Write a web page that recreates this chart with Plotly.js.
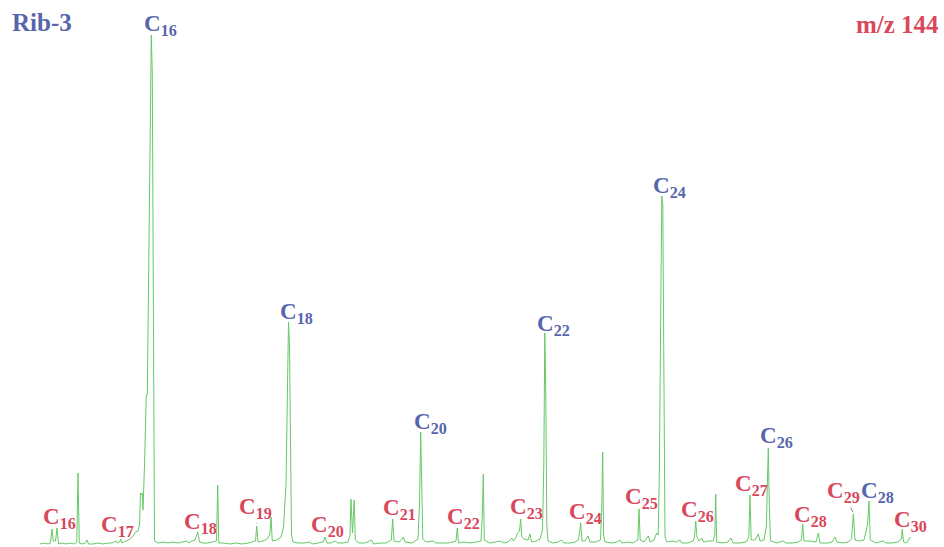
<!DOCTYPE html>
<html>
<head>
<meta charset="utf-8">
<script src="https://cdn.plot.ly/plotly-3.0.1.min.js"></script>
<style>html,body{margin:0;padding:0;background:#fff;}#chart{width:944px;height:547px;}</style>
</head>
<body>
<div id="chart"></div>
<script>
// Retention position (arbitrary scan units) and m/z 144 ion abundance (arbitrary units)
const retention = [
  40,44,48,50.5,52,53.2,55.5,57,58.5,62,66,70,74,76.8,78,79.3,82,85.5,87,88.5,
  93,98,103,108,112,114.5,116,117.5,119.5,120.7,122,126,130,133,135.5,138,139.5,140.5,141.3,142.2,
  143,144.5,146.3,147.3,148.5,150,151.3,152.3,153.2,153.8,154.5,158,163,168,173,178,183,186.7,189,192,
  195,197.7,199.5,203,208,213,216.5,217.7,218.8,224,230,236,242,248,252,255.5,256.7,258,263,267,
  269.8,271,272.3,277,281,283.5,286,287.5,288.5,289.5,290.5,291.5,293,298,304,309,313,318,323,325,
  327,331,335,338,343,348,350,351,352.5,354.2,355.3,359,365,371.7,373.5,380,386,391.3,392.7,394,
  399,401.5,403.3,405,412,418,419.5,420.7,421.8,422.8,426,433,436,442,448,453,456,457.3,458.5,464,
  470,476,481,482.3,483.3,484.3,490,495,500,504,508,511.7,513.5,516,517.5,519.5,520.7,521.8,524,528,
  530,531.5,536,540,542.5,543.8,544.8,545.8,546.8,548,553,558,561.7,564,570,575,578.5,580.7,582,585,
  588,590,596,600.5,601.8,602.7,603.6,605,612,617,620,622,628,633,637.8,639,640.2,644,648.3,650,
  654,656.7,658.2,659.3,660.7,661.8,662.8,663.8,665,667,672,676,680,682,688,693,694.5,695.7,697,699,
  701.7,703.5,708,713,714.8,715.7,716.7,722,728,731,733,740,746,748.8,750,751.2,755,758.3,760,764,
  766.5,767.3,768.3,769.3,770.5,777,783.3,786,792,798,801.5,802.7,804,810,816,818.3,820,828,832,835,
  837,843,848,851.5,853.3,855,859,864,867.5,869,870.3,876,883,886,892,898,901.3,902.3,903.5,906,
  908,910
];
const abundance = [
  1,2,1,2,16,4,4,17,1,2,1,2,1,3,72,2,1,2,5,1,
  1,2,1,2,2,3,4,2,3,6,2,4,6,9,13,14,20,52,50,52,
  35,80,150,150,250,400,510,470,200,30,4,2,3,2,3,2,3,4,2,4,
  5,13,3,2,2,3,4,60,2,2,1,2,1,2,3,4,19,3,4,6,
  10,28,4,5,8,18,60,150,223,200,60,10,3,2,2,3,1,2,3,8,
  2,2,4,2,2,3,10,46,12,45,5,2,2,5,1,2,2,5,26,4,
  3,5,8,3,2,6,40,113,60,6,3,4,2,2,2,3,4,17,2,3,
  2,3,4,30,71,5,2,3,4,2,3,7,4,8,12,14,26,8,6,5,
  11,3,4,6,15,80,212,150,20,4,2,3,5,2,2,3,5,22,4,4,
  9,3,3,5,40,93,10,3,2,3,5,2,3,2,5,36,5,3,9,3,
  5,12,10,70,250,349,340,150,8,3,4,3,5,2,2,4,8,24,8,4,
  7,3,4,4,10,51,3,2,3,7,2,2,3,8,50,5,5,11,4,5,
  20,60,97,40,4,2,4,2,2,3,5,21,4,4,3,12,2,2,3,8,
  3,2,3,6,31,5,4,5,20,44,5,2,4,2,2,3,6,16,3,2,
  4,8
];

// Peak labels: n-alkyl homologue names
const labelNames = ['C<sub>16</sub>','C<sub>18</sub>','C<sub>20</sub>','C<sub>22</sub>','C<sub>24</sub>','C<sub>26</sub>','C<sub>28</sub>',
  'C<sub>16</sub>','C<sub>17</sub>','C<sub>18</sub>','C<sub>19</sub>','C<sub>20</sub>','C<sub>21</sub>','C<sub>22</sub>','C<sub>23</sub>',
  'C<sub>24</sub>','C<sub>25</sub>','C<sub>26</sub>','C<sub>27</sub>','C<sub>28</sub>','C<sub>29</sub>','C<sub>30</sub>'];
const labelSeries = ['blue','blue','blue','blue','blue','blue','blue',
  'red','red','red','red','red','red','red','red','red','red','red','red','red','red','red'];

// layout of labels (retention position, abundance position)
const labelPosX = [160,296,430,553,669,776,877, 59,117,200,255,327,399,463,526,585,641,697,751,810,843,910];
const labelPosY = [520,232,122,220,358,108,53, 27,19,22,37,19,36,27,37,32,47,34,60,29,53,24];
const pointerTarget = {10:[256.7,20], 20:[853.3,32]};

const BLUE = '#5865ad';
const RED = '#d9475c';
const FONT = 'Liberation Serif, Times New Roman, serif';

const annotations = labelNames.map((t,i)=>{
  const a = {
    x: labelPosX[i], y: labelPosY[i], xref:'x', yref:'y',
    text: '<b>'+t+'</b>', showarrow:false,
    font:{family:FONT, size:23, color: labelSeries[i]==='blue'?BLUE:RED},
    xanchor:'center', yanchor:'middle'
  };
  if (pointerTarget[i]) {
    const tg = pointerTarget[i];
    a.showarrow = true; a.arrowhead = 0; a.arrowwidth = 0.8; a.arrowcolor = '#666';
    a.axref = 'x'; a.ayref = 'y';
    a.ax = labelPosX[i]; a.ay = labelPosY[i];
    a.x = tg[0]; a.y = tg[1]; a.standoff = 1;
  }
  return a;
});
annotations.push({xref:'paper',yref:'paper',x:0.011,y:0.958,xanchor:'left',yanchor:'middle',
  text:'<b>Rib-3</b>',showarrow:false,font:{family:FONT,size:25,color:BLUE}});
annotations.push({xref:'paper',yref:'paper',x:0.997,y:0.955,xanchor:'right',yanchor:'middle',
  text:'<b>m/z 144</b>',showarrow:false,font:{family:FONT,size:25,color:RED}});

Plotly.newPlot('chart', [{
  x: retention, y: abundance, type:'scatter', mode:'lines',
  line:{color:'#66c966', width:1}, hoverinfo:'skip'
}], {
  width:944, height:547,
  margin:{l:0,r:0,t:0,b:0},
  paper_bgcolor:'#fff', plot_bgcolor:'#fff',
  showlegend:false,
  xaxis:{range:[0,944], visible:false, showgrid:false, zeroline:false},
  yaxis:{range:[-2,545], visible:false, showgrid:false, zeroline:false},
  annotations: annotations
}, {staticPlot:true});
</script>
</body>
</html>
